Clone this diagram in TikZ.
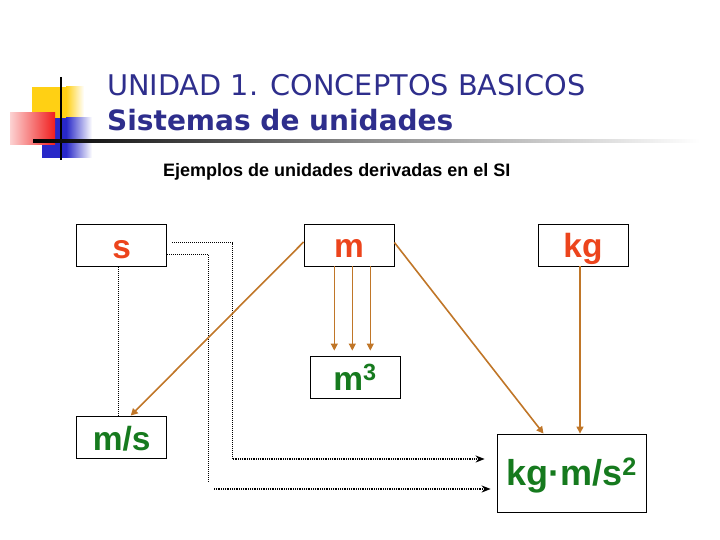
\documentclass[tikz,border=0pt]{standalone}
\usepackage{fontspec}
\setmainfont{Liberation Sans}
\newfontfamily\tahoma{DejaVu Sans}
\usetikzlibrary{arrows.meta,calc}
\definecolor{navy}{RGB}{46,46,140}
\definecolor{brn}{RGB}{192,118,40}
\definecolor{redt}{RGB}{236,68,28}
\definecolor{grn}{RGB}{22,122,30}
\definecolor{ylw}{RGB}{255,208,20}
\definecolor{blu}{RGB}{40,40,200}
\definecolor{rd}{RGB}{240,30,30}
\begin{document}
\begin{tikzpicture}[x=1pt,y=-1pt,
  unit/.style={draw=black, line width=0.8pt, inner sep=0pt, minimum width=90pt,
    text height=34pt, text depth=8pt, font=\fontsize{33.5}{33.5}\selectfont\bfseries},
  baseu/.style={unit, text=redt},
  deru/.style={unit, text=grn},
  dotl/.style={line width=0.9pt, dash pattern=on 1pt off 1pt},
  dotb/.style={line width=1.5pt, dash pattern=on 1pt off 0.8pt},
  blk/.style={-{Stealth[length=9pt,width=7pt]}},
  brarrow/.style={draw=brn, line width=1.6pt, -{Triangle[length=7pt,width=7pt]}, brn},
]
\useasboundingbox (0,0) rectangle (720,540);
% logo
\fill[ylw] (32,87) rectangle (66,137);
\shade[left color=ylw, right color=white] (66,87) rectangle (84,137);
\fill[blu] (42,118) rectangle (66,158);
\shade[left color=blu, right color=white] (66,118) rectangle (92,158);
\shade[left color=rd!20, right color=rd] (10,113) rectangle (55,145);
\draw[line width=2pt] (61,77) -- (61,160);
\shade[left color=black, right color=white, middle color=black!45] (33,140) rectangle (700,142.5);
% titles
\node[anchor=base west, inner sep=0pt, text=navy, font=\tahoma\fontsize{28.5}{28.5}\selectfont] (t1) at (107,96) {\scalebox{1.01}[1]{UNIDAD 1. CONCEPTOS BASICOS}};
\node[anchor=base west, inner sep=0pt, text=navy, font=\tahoma\bfseries\fontsize{28}{28}\selectfont] (t2) at (107,131) {Sistemas de unidades};
\node[anchor=base west, inner sep=0pt, font=\bfseries\fontsize{18}{18}\selectfont] (t3) at (163,177) {Ejemplos de unidades derivadas en el SI};
% boxes
\node[baseu] (s) at (121.7,245.5) {s};
\node[baseu] (m) at (349,245) {m};
\node[baseu] (kg) at (583,245) {kg};
\node[deru] (m3) at (355,377) {m\textsuperscript{3}};
\node[deru] (ms) at (121.7,437) {m/s};
\node[deru, minimum width=149pt, text height=51pt, text depth=27pt,
  font=\fontsize{36}{36}\selectfont\bfseries] (kgms) at (571.5,473) {kg·m/s\textsuperscript{2}};
% dotted connectors
\draw[dotl] ($(s.south)+(-3.4,0)$) -- ($(ms.north)+(-3.4,0)$);
\draw[dotl] ($(s.east)+(5,-3)$) -- (232.7,242.5) -- (232.7,459);
\draw[dotb, blk] (232.7,459) -- ($(kgms.west)+(-12,-14)$);
\draw[dotl] ($(s.east)+(0,9)$) -- (208.3,254.5) -- (208.3,482);
\draw[dotb, blk] (214,489) -- ($(kgms.west)+(-6,16)$);
% brown connectors
\draw[brarrow] ($(m.west)+(0,-3)$) -- ($(ms.north)+(9,0)$);
\foreach \dx/\nm in {-14.7/a, 3.3/b, 21.3/c}{
  \coordinate (p\nm) at ($(m.south)+(\dx,0)$);
  \draw[brarrow, line width=1.2pt, shorten >=5pt] (p\nm) -- (p\nm |- m3.north);
}
\draw[brarrow] ($(m.east)+(0,-2.5)$) -- ($(kgms.north)+(-28,0)$);
\coordinate (kq) at ($(kg.south)+(-3,0)$);
\draw[brarrow, line width=1.2pt] (kq) -- (kq |- kgms.north);
\end{tikzpicture}
\end{document}
